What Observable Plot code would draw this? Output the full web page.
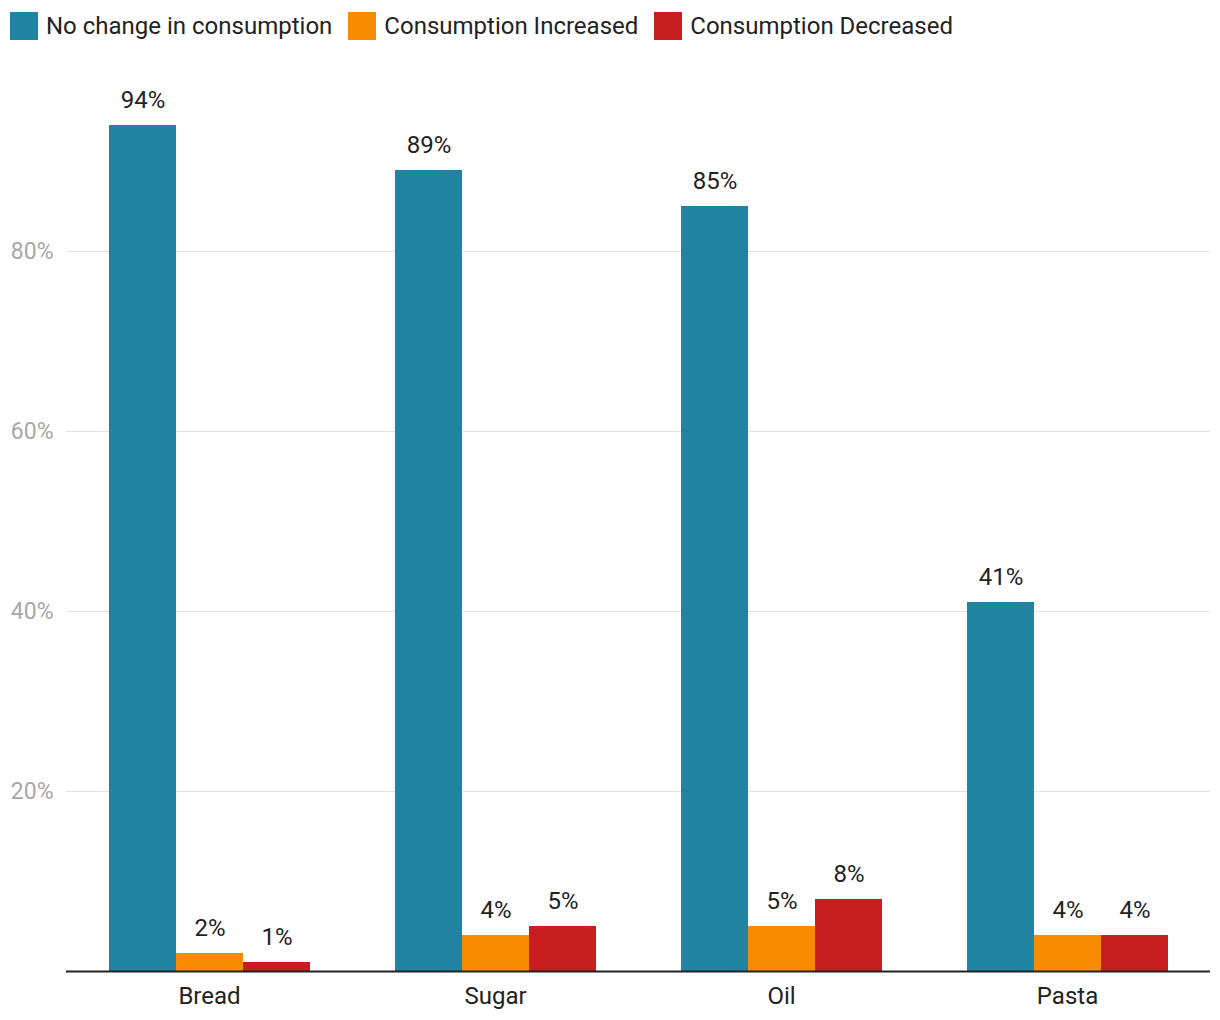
<!DOCTYPE html>
<html>
<head>
<meta charset="utf-8">
<script src="https://cdn.jsdelivr.net/npm/d3@7"></script>
<script src="https://cdn.jsdelivr.net/npm/@observablehq/plot@0.6"></script>
<style>
  html, body { margin: 0; padding: 0; background: #fff; }
  body { width: 1220px; height: 1020px; overflow: hidden; font-family: Roboto, "Noto Sans", sans-serif; }
  #legend { display: flex; align-items: center; height: 52px; padding-left: 10px; box-sizing: border-box; padding-bottom: 0px; }
  .item { display: flex; align-items: center; margin-right: 16px; font-size: 24px; color: #222; }
  .sw { width: 28px; height: 28px; margin-right: 8px; }
  #chart svg { display: block; }
</style>
</head>
<body>
<div id="legend"></div>
<div id="chart"></div>
<script>
const categories = ["Bread", "Sugar", "Oil", "Pasta"];
const seriesNames = ["No change in consumption", "Consumption Increased", "Consumption Decreased"];
const seriesColors = ["#1F83A1", "#F98B00", "#C91E1F"];
const noChange = [94, 89, 85, 41];
const increased = [2, 4, 5, 4];
const decreased = [1, 5, 8, 4];
const yTicks = [20, 40, 60, 80];

const seriesValues = [noChange, increased, decreased];
const data = [];
categories.forEach((c, i) => {
  seriesNames.forEach((s, j) => {
    data.push({category: c, series: s, value: seriesValues[j][i]});
  });
});

const legend = document.getElementById("legend");
seriesNames.forEach((s, j) => {
  const it = document.createElement("div");
  it.className = "item";
  const sw = document.createElement("div");
  sw.className = "sw";
  sw.style.background = seriesColors[j];
  it.appendChild(sw);
  const t = document.createElement("span");
  t.textContent = s;
  it.appendChild(t);
  legend.appendChild(it);
});

const chart = Plot.plot({
  width: 1220,
  height: 968,
  marginLeft: 66,
  marginRight: 10,
  marginTop: 19,
  marginBottom: 49,
  style: {fontFamily: "Roboto, 'Noto Sans', sans-serif", background: "#fff"},
  fx: {domain: categories, padding: 0, label: null},
  x: {domain: seriesNames, paddingInner: 0, paddingOuter: 0.63, axis: null},
  y: {domain: [0, 100], label: null},
  color: {domain: seriesNames, range: seriesColors},
  marks: [
    Plot.gridY(yTicks, {stroke: "#e2e2e2", strokeOpacity: 1}),
    Plot.axisY(yTicks, {tickSize: 0, tickPadding: 13, fontSize: 23, fill: "#a8a8a8", tickFormat: d => d + "%", label: null}),
    Plot.axisFx({anchor: "bottom", tickSize: 0, tickPadding: 15, fontSize: 24, fill: "#222", label: null}),
    Plot.barY(data, {fx: "category", x: "series", y: "value", fill: "series", inset: 0}),
    Plot.text(data, {fx: "category", x: "series", y: "value", text: d => d.value + "%", lineAnchor: "bottom", dy: -18, fontSize: 24, fill: "#222"}),
    Plot.ruleY([0], {stroke: "#222", strokeWidth: 2})
  ]
});
document.getElementById("chart").appendChild(chart);
</script>
</body>
</html>
